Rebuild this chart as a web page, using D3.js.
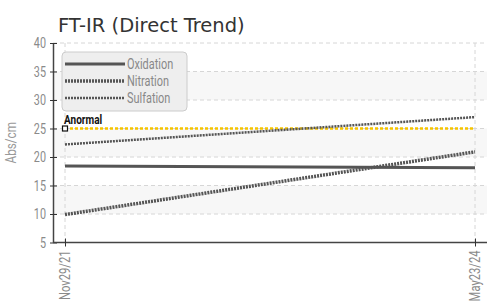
<!DOCTYPE html>
<html><head><meta charset="utf-8">
<script src="https://cdn.jsdelivr.net/npm/d3@7"></script>
<style>
body{margin:0;background:#fff;}
text{font-family:"Roboto","DejaVu Sans Condensed",sans-serif;}
</style></head>
<body><svg id="c" width="487" height="305"></svg>
<script>
const dates = ["Nov29/21","May23/24"];
const oxidation = [18.4, 18.1];
const nitration = [9.9, 20.9];
const sulfation = [22.2, 27.0];
const anormal = [25, 25];
const yTicks = [5,10,15,20,25,30,35,40];
const seriesNames = ["Oxidation","Nitration","Sulfation"];

const svg = d3.select("#c");
const x = d3.scalePoint().domain(dates).range([65,475]);
const y = d3.scaleLinear().domain([5,40]).range([242.5,43]);
const left = 53, right = 487;

function condense(sel, f){
  sel.each(function(){
    const w = this.getComputedTextLength();
    d3.select(this).attr("textLength", w*f).attr("lengthAdjust","spacingAndGlyphs");
  });
}

// bands
const bands = [[10,15],[20,25],[30,35]];
svg.selectAll("rect.band").data(bands).enter().append("rect")
  .attr("x",left).attr("width",right-left)
  .attr("y",d=>y(d[1])).attr("height",d=>y(d[0])-y(d[1]))
  .attr("fill","#f7f7f7");

// grid
svg.selectAll("line.gy").data(yTicks.slice(1)).enter().append("line")
  .attr("x1",left).attr("x2",right).attr("y1",d=>y(d)).attr("y2",d=>y(d))
  .attr("stroke","#d6d6d6").attr("stroke-dasharray","4,3");
svg.selectAll("line.gx").data(dates).enter().append("line")
  .attr("x1",d=>x(d)).attr("x2",d=>x(d)).attr("y1",y(40)).attr("y2",y(5))
  .attr("stroke","#d6d6d6").attr("stroke-dasharray","4,3");

// axes
const yAxis = d3.axisLeft(y).tickValues(yTicks).tickSize(0).tickPadding(7);
const gy = svg.append("g").attr("transform",`translate(${left},0)`).call(yAxis);
gy.select(".domain").attr("stroke","#444").attr("stroke-width",1.5);
gy.selectAll("text").attr("fill","#8a8a8a").attr("font-size",15).style("font-family","Roboto");
condense(gy.selectAll("text"), 0.72);
gy.selectAll(".tick").append("line").attr("x1",-3).attr("x2",4).attr("stroke","#333");

const xAxis = d3.axisBottom(x).tickSize(0).tickPadding(0);
const gx = svg.append("g").attr("transform",`translate(0,${y(5)})`).call(xAxis);
gx.select(".domain").attr("d",`M${left},0H${right}`).attr("stroke","#444").attr("stroke-width",1.5);
gx.selectAll(".tick").append("line").attr("y1",-4).attr("y2",4).attr("stroke","#333");
gx.selectAll("text").attr("fill","#8a8a8a").attr("font-size",14).style("font-family","Roboto")
  .attr("text-anchor","end").attr("dy","0.35em")
  .attr("transform","translate(0,8) rotate(-90)");
condense(gx.selectAll("text"), 0.8);

// lines
const line = d3.line().x((d,i)=>x(dates[i])).y(d=>y(d));
svg.append("path").datum(anormal).attr("d",line).attr("fill","none")
  .attr("stroke","#f5c400").attr("stroke-width",2.5).attr("stroke-dasharray","3,2");
svg.append("path").datum(sulfation).attr("d",line).attr("fill","none")
  .attr("stroke","#555").attr("stroke-width",2.5).attr("stroke-dasharray","2,1");
svg.append("path").datum(oxidation).attr("d",line).attr("fill","none")
  .attr("stroke","#555").attr("stroke-width",3);
svg.append("path").datum(nitration).attr("d",line).attr("fill","none")
  .attr("stroke","#555").attr("stroke-width",3.5).attr("stroke-dasharray","2,1");

// anormal marker and label
svg.append("rect").attr("x",x(dates[0])-2.5).attr("y",y(anormal[0])-2.5)
  .attr("width",5).attr("height",5).attr("fill","#fff").attr("stroke","#111").attr("stroke-width",1.2);
const an = svg.append("text").attr("x",x(dates[0])-1).attr("y",y(anormal[0])-5)
  .attr("font-size",12.5).attr("font-weight","bold").attr("fill","#111").text("Anormal");
condense(an, 0.8);

// legend
const lg = svg.append("g");
lg.append("rect").attr("x",62).attr("y",52).attr("width",125).attr("height",59)
  .attr("rx",4).attr("fill","#eeeeee").attr("stroke","#cccccc");
const styles = [{w:3,da:null},{w:3.5,da:"2,1"},{w:2.5,da:"2,1"}];
seriesNames.forEach((n,i)=>{
  const yy = 64 + i*17;
  const l = lg.append("line").attr("x1",65).attr("x2",125).attr("y1",yy).attr("y2",yy)
    .attr("stroke","#555").attr("stroke-width",styles[i].w);
  if(styles[i].da) l.attr("stroke-dasharray",styles[i].da);
  const t = lg.append("text").attr("x",127).attr("y",yy).attr("dy","0.36em")
    .attr("font-size",14).attr("fill","#888").text(n);
  condense(t, 0.78);
});

// title & y label
svg.append("text").attr("x",58).attr("y",31.5).attr("font-size",19.5)
  .attr("fill","#333").style("font-family","'DejaVu Sans',sans-serif").text("FT-IR (Direct Trend)");
const yl = svg.append("text").attr("transform",`translate(16,${y(22.5)}) rotate(-90)`)
  .attr("text-anchor","middle").attr("font-size",15).attr("fill","#9a9a9a").text("Abs/cm");
condense(yl, 0.78);
</script></body></html>
